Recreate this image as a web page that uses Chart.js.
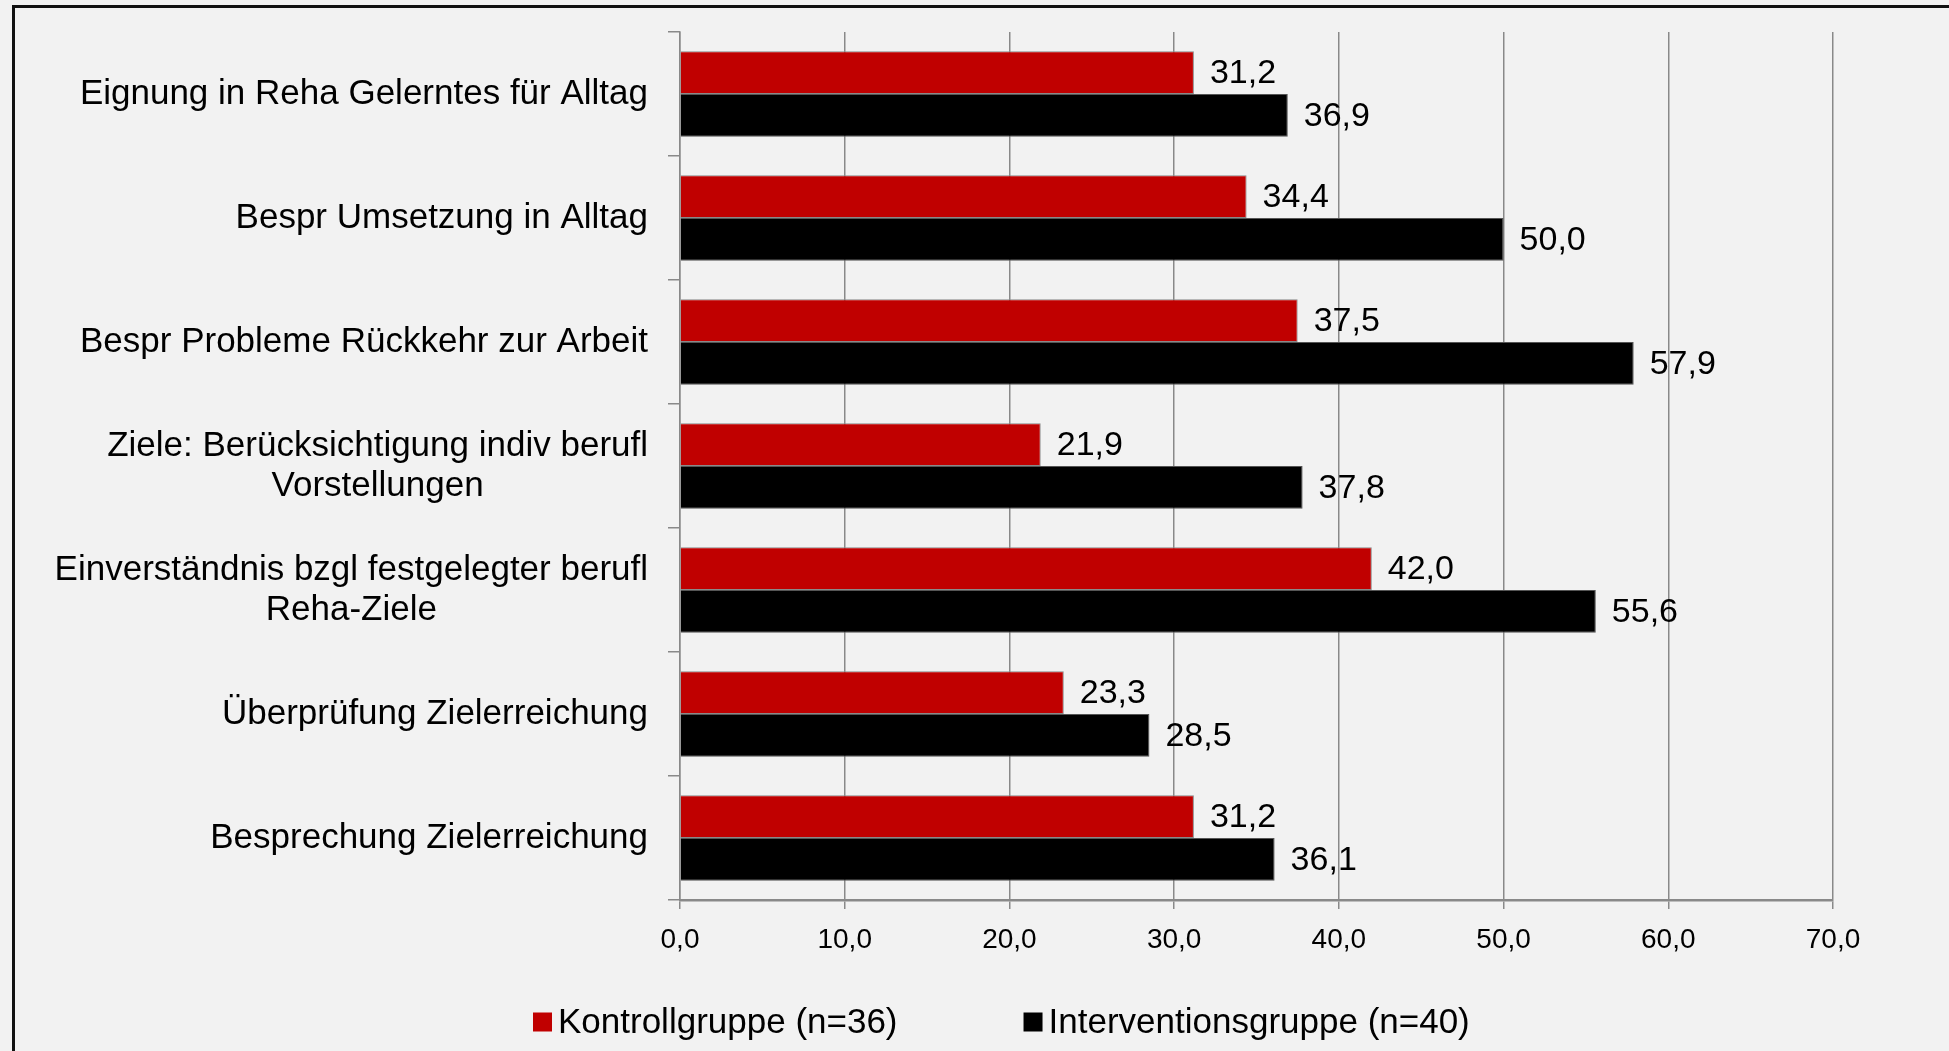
<!DOCTYPE html>
<html>
<head>
<meta charset="utf-8">
<script src="https://cdn.jsdelivr.net/npm/chart.js@4.4.1/dist/chart.umd.min.js"></script>
<style>
  html, body { margin: 0; padding: 0; background: #f2f2f2; }
  canvas { display: block; }
</style>
</head>
<body>
<canvas id="chart" width="1949" height="1051"></canvas>
<script>
const categories = [
  "Eignung in Reha Gelerntes für Alltag",
  "Bespr Umsetzung in Alltag",
  "Bespr Probleme Rückkehr zur Arbeit",
  ["Ziele: Berücksichtigung indiv berufl", "Vorstellungen"],
  ["Einverständnis bzgl festgelegter berufl", "Reha-Ziele"],
  "Überprüfung Zielerreichung",
  "Besprechung Zielerreichung"
];
const seriesNames = ["Kontrollgruppe (n=36)", "Interventionsgruppe (n=40)"];
const kontrolle = [31.2, 34.4, 37.5, 21.9, 42.0, 23.3, 31.2];
const intervention = [36.9, 50.0, 57.9, 37.8, 55.6, 28.5, 36.1];
const xMin = 0, xMax = 70, xStep = 10;

const FONT = "'Liberation Sans', Arial, sans-serif";
const GRID = "#898989";
const fmt = v => v.toFixed(1).replace(".", ",");

// background + the cropped frame of the original slide
const frame = {
  id: "frame",
  beforeDraw(chart) {
    const ctx = chart.ctx;
    ctx.save();
    ctx.fillStyle = "#f2f2f2";
    ctx.fillRect(0, 0, chart.width, chart.height);
    ctx.strokeStyle = "#111";
    ctx.lineWidth = 3;
    ctx.beginPath();
    ctx.moveTo(13.5, chart.height);
    ctx.lineTo(13.5, 6.5);
    ctx.lineTo(chart.width, 6.5);
    ctx.stroke();
    ctx.restore();
  }
};

// category labels: right aligned block, each line centred in its block
const catLabels = {
  id: "catLabels",
  afterDraw(chart) {
    const ctx = chart.ctx;
    const y = chart.scales.y;
    const right = chart.chartArea.left - 32;
    ctx.save();
    ctx.font = "35px " + FONT;
    ctx.fillStyle = "#000";
    ctx.textAlign = "center";
    ctx.textBaseline = "middle";
    categories.forEach((c, i) => {
      const lines = Array.isArray(c) ? c : [c];
      const w = Math.max(...lines.map(l => ctx.measureText(l).width));
      const cy = y.getPixelForValue(i);
      const lh = 40;
      lines.forEach((l, k) => {
        ctx.fillText(l, right - w / 2, cy + (k - (lines.length - 1) / 2) * lh);
      });
    });
    ctx.restore();
  }
};

// value labels at the end of each bar
const valueLabels = {
  id: "valueLabels",
  afterDatasetsDraw(chart) {
    const ctx = chart.ctx;
    ctx.save();
    ctx.font = "34px " + FONT;
    ctx.fillStyle = "#000";
    ctx.textAlign = "left";
    ctx.textBaseline = "middle";
    chart.data.datasets.forEach((ds, di) => {
      chart.getDatasetMeta(di).data.forEach((bar, i) => {
        ctx.fillText(fmt(ds.data[i]), bar.x + 16, bar.y + 1);
      });
    });
    ctx.restore();
  }
};

// legend with small squares close to the text
const legendRow = {
  id: "legendRow",
  afterDraw(chart) {
    const ctx = chart.ctx;
    const cy = 1022;
    let x = 533;
    ctx.save();
    ctx.font = "35px " + FONT;
    ctx.textAlign = "left";
    ctx.textBaseline = "middle";
    chart.data.datasets.forEach(ds => {
      ctx.fillStyle = ds.backgroundColor;
      ctx.fillRect(x, cy - 9.5, 19, 19);
      ctx.fillStyle = "#000";
      ctx.fillText(ds.label, x + 25, cy + 1);
      x += 25 + ctx.measureText(ds.label).width + 126;
    });
    ctx.restore();
  }
};

new Chart(document.getElementById("chart"), {
  type: "bar",
  data: {
    labels: categories,
    datasets: [
      {
        label: seriesNames[0],
        data: kontrolle,
        backgroundColor: "#c00000",
        borderColor: "#8a8a8a",
        borderWidth: 1
      },
      {
        label: seriesNames[1],
        data: intervention,
        backgroundColor: "#000000",
        borderColor: "#555555",
        borderWidth: 1
      }
    ]
  },
  options: {
    indexAxis: "y",
    responsive: false,
    animation: false,
    devicePixelRatio: 1,
    categoryPercentage: 0.69,
    barPercentage: 1,
    layout: { padding: { left: 0, top: 32, right: 116, bottom: 0 } },
    plugins: {
      legend: { display: false },
      tooltip: { enabled: false }
    },
    scales: {
      x: {
        min: xMin,
        max: xMax,
        ticks: {
          stepSize: xStep,
          callback: v => fmt(v),
          color: "#000",
          font: { family: FONT, size: 28 },
          padding: 14,
          maxRotation: 0
        },
        grid: { color: GRID, lineWidth: 1.5, tickLength: 9 },
        border: { color: GRID, width: 2.5 },
        afterFit(scale) { scale.height = 151; }
      },
      y: {
        ticks: { display: false },
        grid: {
          offset: true,
          drawOnChartArea: false,
          color: GRID,
          lineWidth: 1.5,
          tickLength: 12
        },
        border: { color: GRID, width: 1.5 },
        afterFit(scale) { scale.width = 680; }
      }
    }
  },
  plugins: [frame, catLabels, valueLabels, legendRow]
});
</script>
</body>
</html>
